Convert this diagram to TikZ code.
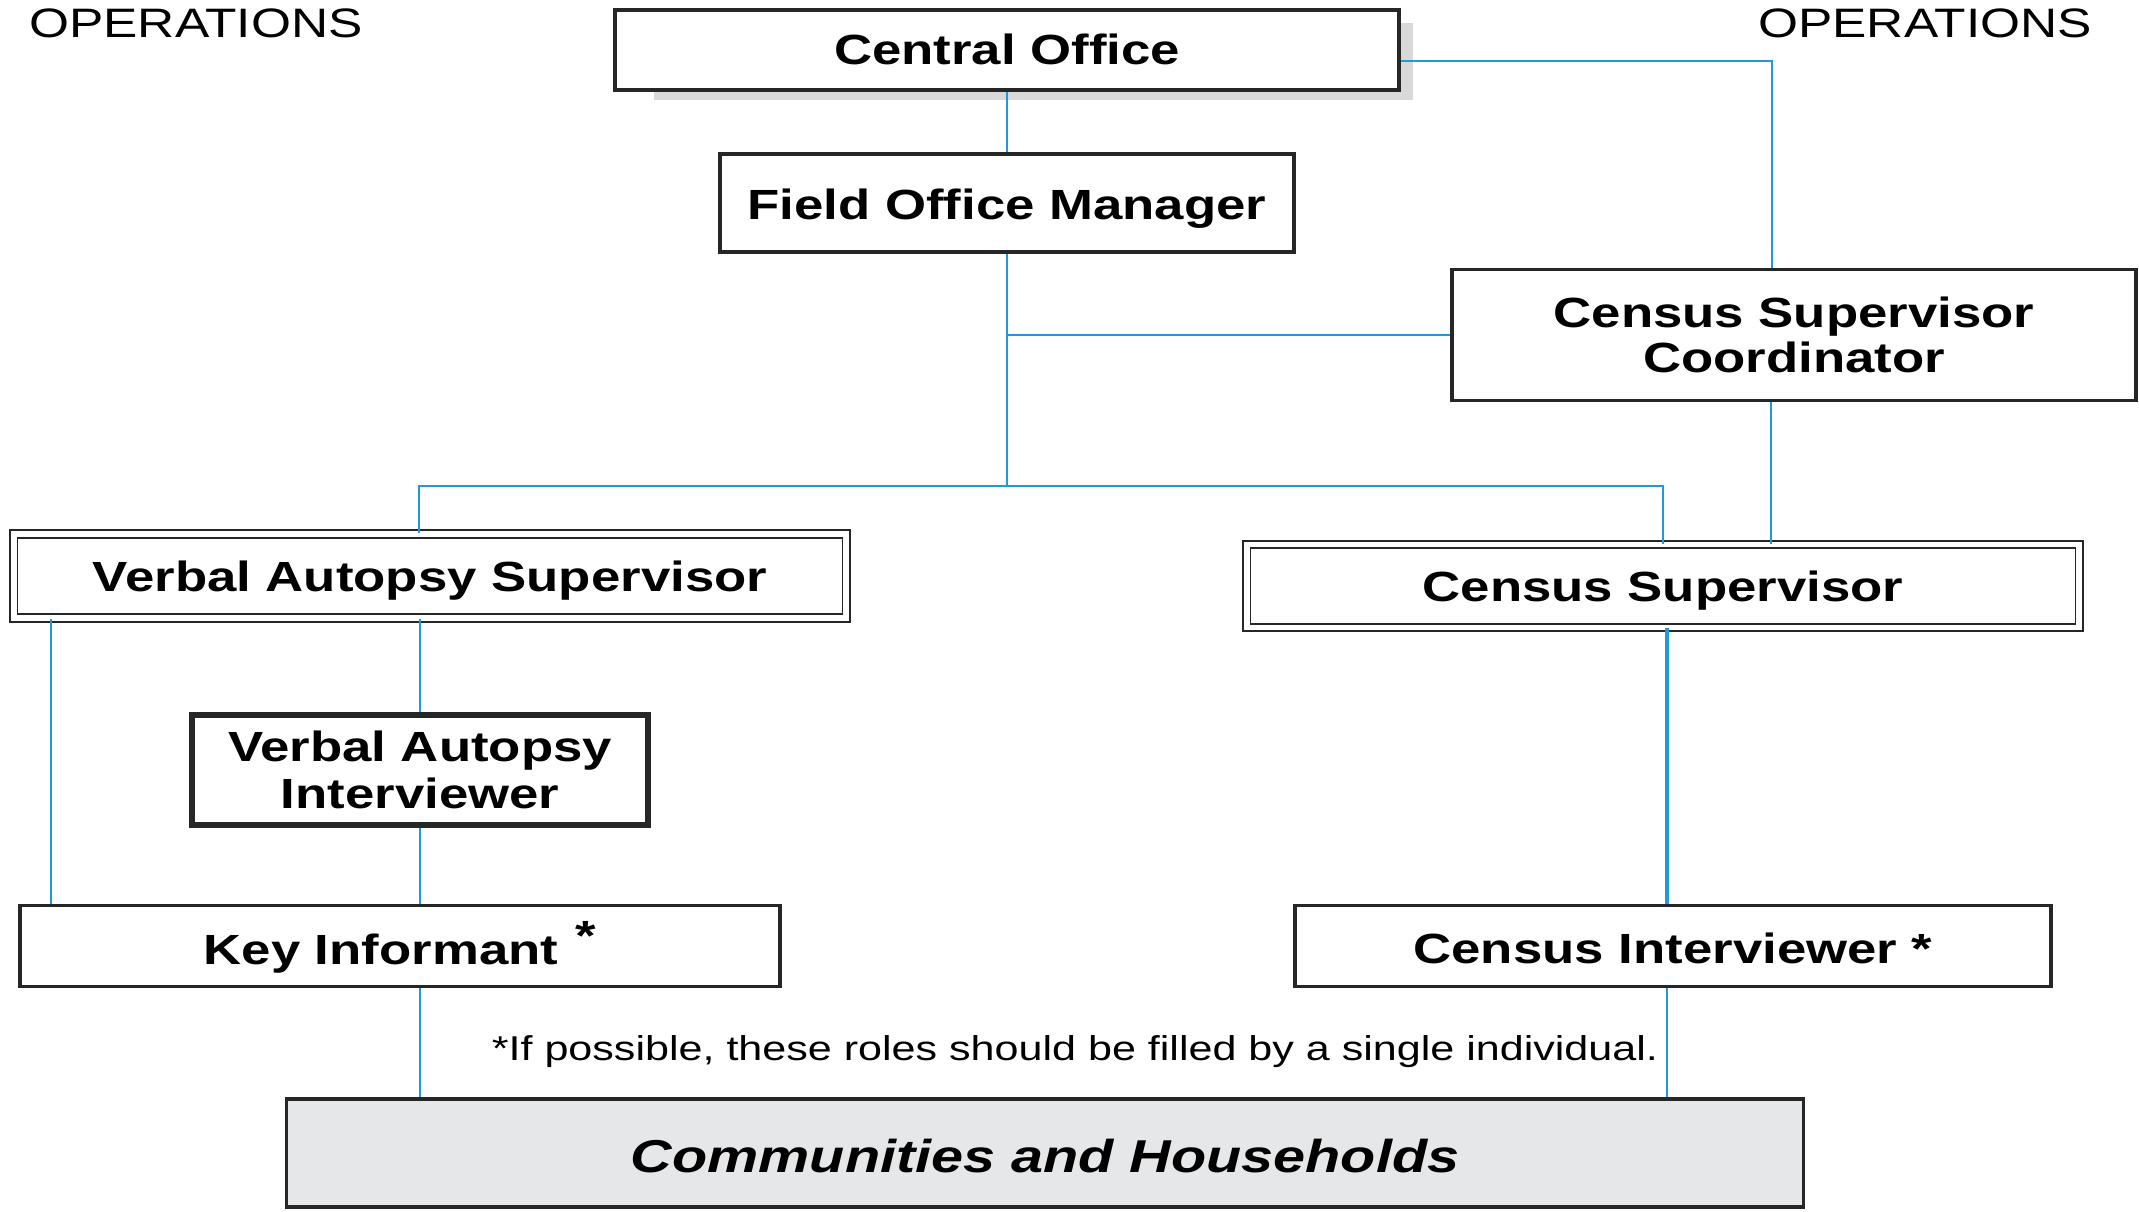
\documentclass[tikz,border=0pt]{standalone}
\usepackage{fontspec}
\setmainfont{Liberation Sans}[FakeStretch=1.25]
\usepackage{tikz}
\usepackage{xcolor}

\definecolor{linkblue}{RGB}{30,155,215}
\definecolor{chgray}{RGB}{230,231,233}

\tikzset{
	unit/.style={draw=black!85, line width=1.1pt, fill=white, inner sep=0pt,
		align=center, font=\bfseries\fontsize{12}{13.5}\selectfont},
	oneline/.style={text height=8.6pt, text depth=0pt},
	dblunit/.style={unit, oneline, line width=0.5pt, double=white, double distance=1.6pt},
	link/.style={draw=linkblue, line width=0.6pt}
}

\begin{document}
\begin{tikzpicture}[x=0.01cm, y=-0.01cm]
		 %\draw[help lines] (0,0) grid (2139,1211);
		 \useasboundingbox (0,0) rectangle (2139,1211);
		 
		 \node[font=\fontsize{11.7}{13}\selectfont] (opl) at (196,23) {OPERATIONS};
		 \node[font=\fontsize{11.7}{13}\selectfont] (opr) at (1925,23) {OPERATIONS};
		 
		 \fill[black!15] (654,23) rectangle (1413,100);
		 \node[unit, text height=8pt, text depth=0pt, minimum width=7.83cm, minimum height=0.80cm] (co) at (1007,50) {Central Office};
		 \node[unit, text height=9.4pt, text depth=0pt, minimum width=5.73cm, minimum height=0.98cm] (fom) at (1007,203) {Field Office Manager};
		 \node[unit, minimum width=6.84cm, minimum height=1.31cm, font=\bfseries\fontsize{12}{13}\selectfont] (csc) at (1794,335) {Census Supervisor\\Coordinator};
		 
		 \node[dblunit, minimum width=8.32cm, minimum height=0.84cm] (vas) at (430,576) {Verbal Autopsy Supervisor};
		 \node[dblunit, minimum width=8.32cm, minimum height=0.83cm] (cs) at (1663,586) {Census Supervisor};
		 \node[unit, line width=1.6pt, minimum width=4.56cm, minimum height=1.10cm] (vai) at (420,770) {Verbal Autopsy\\Interviewer};
		 
		 \node[unit, text height=10.6pt, text depth=0pt, minimum width=7.59cm, minimum height=0.81cm] (ki) at (400,946) {Key Informant\hspace{5pt}\raisebox{4pt}{*}};
		 \node[unit, text height=10.2pt, text depth=0pt, minimum width=7.56cm, minimum height=0.81cm] (ci) at (1673,946) {Census Interviewer *};
		 
		 \node[font=\fontsize{9.8}{11}\selectfont] (note) at (1075,1052) {*If possible, these roles should be filled by a single individual.};
		 \node[unit, fill=chgray, minimum width=15.16cm, minimum height=1.08cm, text height=11pt, text depth=0pt,
		 font=\bfseries\itshape\fontsize{13.1}{15}\selectfont] (ch) at (1045,1153) {Communities and Households};
		 
		 \coordinate (bend) at (1772,61);
		 \coordinate (split) at (1007,486);
		 \coordinate (vastap) at (419,486);
		 \coordinate (cstap) at (1663,486);
		 \coordinate (cscx) at (1771,0);
		 \coordinate (vasx) at (51,0);
		 \coordinate (csx) at (1667,0);
		 
		 \draw[link] (co) -- (fom);
		 \draw[link] (co.east |- bend) -- (bend) -- (bend |- csc.north);
		 \draw[link] (fom) -- (split);
		 \draw[link] (fom |- csc.west) -- (csc.west);
		 \draw[link] (vas.north -| vastap) -- (vastap) -- (cstap) -- (cs.north);
		 \draw[link] (csc.south -| cscx) -- (cs.north -| cscx);
		 
		 \draw[link] (vas.south -| vai) -- (vai);
		 \draw[link] (vai) -- (ki.north -| vai);
		 \draw[link] (vas.south -| vasx) -- (ki.north -| vasx);
		 \draw[link, line width=1pt] (cs.south -| csx) -- (ci.north -| csx);
		 
		 \draw[link] (ki.south -| vai) -- (ch.north -| vai);
		 \draw[link] (ci.south -| csx) -- (ch.north -| csx);
\end{tikzpicture}
\end{document}
